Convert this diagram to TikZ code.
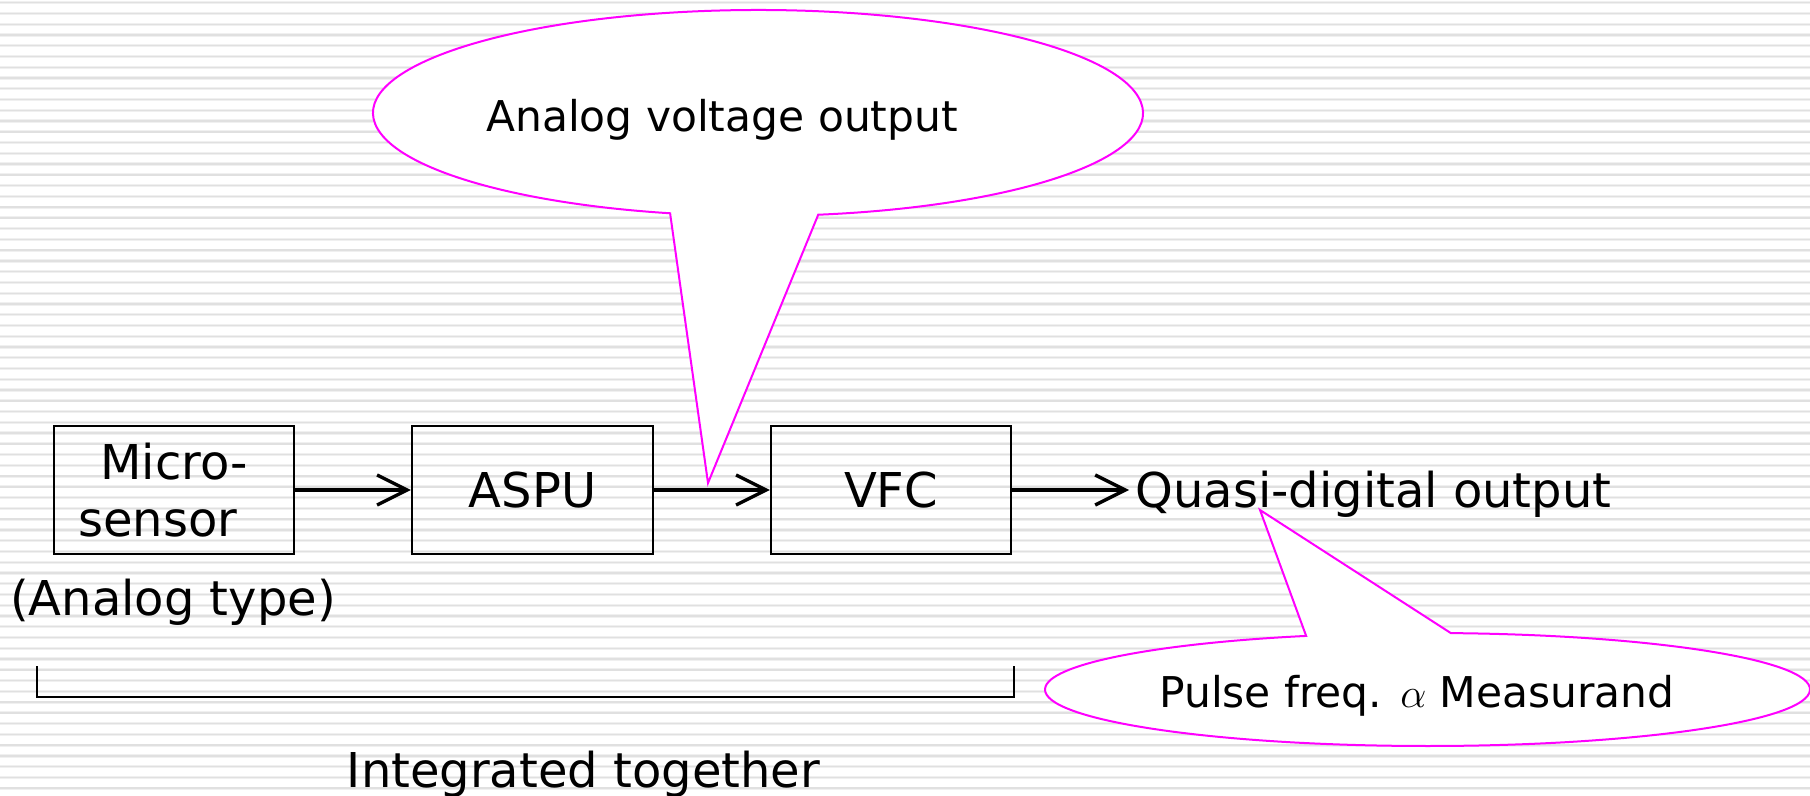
\documentclass[tikz,border=0pt]{standalone}
\usepackage{fontspec}
\setmainfont{DejaVu Sans}
\usetikzlibrary{arrows.meta,calc}
\definecolor{calloutmag}{RGB}{255,0,255}
\begin{document}
\begin{tikzpicture}[x=0.5pt,y=-0.5pt,
  stripeA/.style={draw=black!6, line width=1.6pt},
  stripeB/.style={draw=black!12, line width=0.7pt},
  bigtext/.style={font=\fontsize{24pt}{28pt}\selectfont, inner sep=0pt},
  smalltext/.style={font=\fontsize{21.2pt}{25pt}\selectfont, inner sep=0pt},
  box/.style={draw=black, line width=1.1pt, minimum height=64pt, inner sep=0pt, font=\fontsize{24pt}{28pt}\selectfont},
  arr/.style={line width=1.7pt, -{Straight Barb[length=15pt,width=15pt]}},
  bracket/.style={line width=1.2pt},
  callout/.style={draw=calloutmag, fill=white, line width=1pt, line join=miter}]
% background
\fill[white] (0,0) rectangle (1810,796);
\useasboundingbox (0,0) rectangle (1810,796);
\foreach \i in {0,...,73}{
  \draw[stripeA] (0,{2.7+\i*10.76}) -- (1810,{2.7+\i*10.76});
  \draw[stripeB] (0,{2.7+\i*10.76}) -- (1810,{2.7+\i*10.76});
}
% callout coordinates
\coordinate (c1) at (758,113);
\coordinate (tip1) at (708,483);
\coordinate (c2) at (1427.5,689.5);
\coordinate (tip2) at (1260,510);
% callout 1
\draw[callout] (c1) ++(81:385 and 103) arc[start angle=81, end angle=-256.8, x radius=385, y radius=103] -- (tip1) -- cycle;
% callout 2
\draw[callout] (c2) ++(-86.5:382.5 and 56.5) arc[start angle=-86.5, end angle=251.5, x radius=382.5, y radius=56.5] -- (tip2) -- cycle;
\node[smalltext, anchor=base] (t1) at (722,132) {Analog voltage output};
\node[smalltext, anchor=base] (t2) at (1417,707) {Pulse freq. $\alpha$ Measurand};
% boxes
\node[box, minimum width=120pt] (ms) at (174,490) {};
\node[bigtext, anchor=base] (ms1) at (174,480) {Micro-};
\node[bigtext, anchor=base] (ms2) at (158,537) {sensor};
\node[box, minimum width=120.5pt] (aspu) at (532.5,490) {ASPU};
\node[box, minimum width=120pt] (vfc) at (891,490) {VFC};
\node[bigtext, anchor=base west] (quasi) at (1135,508) {Quasi-digital output};
% arrows
\draw[arr] (ms.east) -- (aspu.west);
\draw[arr] (aspu.east) -- (vfc.west);
\draw[arr] (vfc.east) -- ($(vfc.east -| quasi.west)+(-6,0)$);
% labels
\node[bigtext, anchor=base] (atype) at (173,615) {(Analog type)};
\coordinate (brL) at (37,666);
\coordinate (brR) at (1014,666);
\draw[bracket] (brL) -- ++(0,31) -| (brR);
\node[bigtext, anchor=base] (integ) at (583.5,787) {Integrated together};
\end{tikzpicture}
\end{document}
